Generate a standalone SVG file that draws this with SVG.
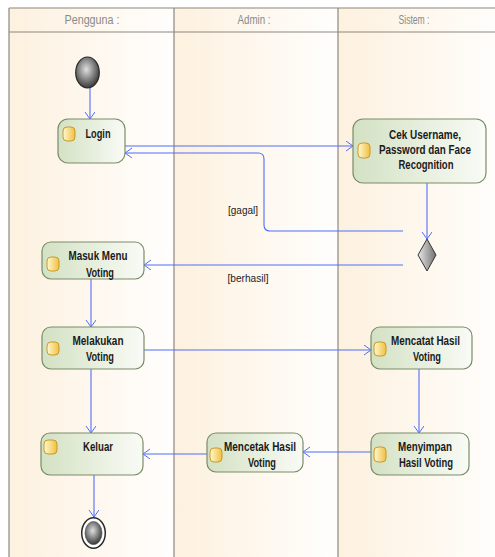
<svg xmlns="http://www.w3.org/2000/svg" width="495" height="557" viewBox="0 0 495 557">
<defs>
<linearGradient id="lane" x1="0" y1="0" x2="1" y2="0">
<stop offset="0" stop-color="#fdf1df"/><stop offset="1" stop-color="#fffefd"/>
</linearGradient>
<linearGradient id="act" x1="0" y1="0" x2="1" y2="0">
<stop offset="0" stop-color="#d3e1c3"/><stop offset="1" stop-color="#f9fbf6"/>
</linearGradient>
<linearGradient id="pill" x1="0" y1="0" x2="1" y2="0">
<stop offset="0" stop-color="#fff8d0"/><stop offset="1" stop-color="#f0c040"/>
</linearGradient>
<radialGradient id="ball" cx="0.45" cy="0.4" r="0.6">
<stop offset="0" stop-color="#e0e0e0"/><stop offset="1" stop-color="#3a3a3a"/>
</radialGradient>
<linearGradient id="dia" x1="0" y1="0" x2="1" y2="0">
<stop offset="0" stop-color="#e8e8e8"/><stop offset="1" stop-color="#707070"/>
</linearGradient>
<marker id="arr" markerUnits="userSpaceOnUse" markerWidth="8" markerHeight="12" refX="7" refY="5" orient="auto">
<path d="M0,0 L7,5 L0,10" fill="none" stroke="#4f6ef7" stroke-width="1"/>
</marker>
<style>
.ln{fill:url(#lane)}
.div{stroke:#8c8880;stroke-width:1.2;fill:none}
.hd{font-family:"Liberation Sans",Arial,sans-serif;font-size:12px;fill:#8a8a8a;text-anchor:middle}
.a{fill:url(#act);stroke:#7a8c68;stroke-width:1.2}
.p{fill:url(#pill);stroke:#c99a28;stroke-width:1}
.t{font-family:"Liberation Sans",Arial,sans-serif;font-size:12.5px;font-weight:bold;fill:#1a1a1a;text-anchor:middle}
.lb{font-family:"Liberation Sans",Arial,sans-serif;font-size:11.5px;fill:#222;text-anchor:middle}
.c{fill:none;stroke:#4f6ef7;stroke-width:1.1}
.cm{marker-end:url(#arr)}
</style>
</defs>
<g id="lanes">
<rect class="ln" x="9" y="8" width="165" height="560"/>
<rect class="ln" x="174" y="8" width="164" height="560"/>
<rect class="ln" x="338" y="8" width="170" height="560"/>
<path class="div" d="M9,8 H500 M9,32 H500 M9,8 V557 M174,8 V557 M338,8 V557"/>
<text class="hd" x="92" y="24" textLength="55" lengthAdjust="spacingAndGlyphs">Pengguna :</text>
<text class="hd" x="254" y="24" textLength="33" lengthAdjust="spacingAndGlyphs">Admin :</text>
<text class="hd" x="414" y="24" textLength="31" lengthAdjust="spacingAndGlyphs">Sistem :</text>
</g>
<g id="connectors">
<path class="c cm" d="M90,88 V119"/>
<path class="c cm" d="M125,146 H353"/>
<path class="c cm" d="M427,183 V239"/>
<path class="c cm" d="M403,231 H270 Q264,231 264,225 V159 Q264,153 258,153 H125"/>
<path class="c cm" d="M403,265 H144"/>
<path class="c cm" d="M91,279 V327"/>
<path class="c cm" d="M144,350 H371"/>
<path class="c cm" d="M419,369 V433"/>
<path class="c cm" d="M371,452 H303"/>
<path class="c cm" d="M207,454 H143"/>
<path class="c cm" d="M91,369 V433"/>
<path class="c cm" d="M94,475 V517"/>
<text class="lb" x="243" y="214" textLength="30" lengthAdjust="spacingAndGlyphs">[gagal]</text>
<text class="lb" x="248" y="282" textLength="41" lengthAdjust="spacingAndGlyphs">[berhasil]</text>
</g>
<g id="start">
<ellipse cx="87.5" cy="72.5" rx="11.8" ry="15.5" fill="url(#ball)" stroke="#2a2a2a" stroke-width="1.2"/>
</g>
<g id="login">
<rect class="a" x="58" y="119" width="67" height="44" rx="10"/>
<rect class="p" x="63" y="127" width="12" height="14" rx="4"/>
<text class="t" x="98" y="138" textLength="25" lengthAdjust="spacingAndGlyphs">Login</text>
</g>
<g id="cek">
<rect class="a" x="353" y="119" width="133" height="64" rx="10"/>
<rect class="p" x="358" y="143" width="12" height="15" rx="4"/>
<text class="t" x="425" y="139" textLength="72" lengthAdjust="spacingAndGlyphs">Cek Username,</text>
<text class="t" x="425" y="154" textLength="92" lengthAdjust="spacingAndGlyphs">Password dan Face</text>
<text class="t" x="426" y="169" textLength="55" lengthAdjust="spacingAndGlyphs">Recognition</text>
</g>
<g id="decision">
<polygon points="427,239 436,255 427,271 418,255" fill="url(#dia)" stroke="#333" stroke-width="1"/>
</g>
<g id="masuk">
<rect class="a" x="42" y="242" width="102" height="37" rx="9"/>
<rect class="p" x="47" y="257" width="12" height="14" rx="4"/>
<text class="t" x="98" y="260" textLength="59" lengthAdjust="spacingAndGlyphs">Masuk Menu</text>
<text class="t" x="100" y="277" textLength="28" lengthAdjust="spacingAndGlyphs">Voting</text>
</g>
<g id="melakukan">
<rect class="a" x="42" y="327" width="102" height="42" rx="9"/>
<rect class="p" x="47" y="342" width="12" height="13" rx="4"/>
<text class="t" x="98" y="345" textLength="51" lengthAdjust="spacingAndGlyphs">Melakukan</text>
<text class="t" x="100" y="361" textLength="28" lengthAdjust="spacingAndGlyphs">Voting</text>
</g>
<g id="mencatat">
<rect class="a" x="371" y="327" width="101" height="42" rx="9"/>
<rect class="p" x="374" y="342" width="12" height="14" rx="4"/>
<text class="t" x="425.5" y="345" textLength="69" lengthAdjust="spacingAndGlyphs">Mencatat Hasil</text>
<text class="t" x="427" y="361" textLength="28" lengthAdjust="spacingAndGlyphs">Voting</text>
</g>
<g id="menyimpan">
<rect class="a" x="371" y="433" width="98" height="42" rx="9"/>
<rect class="p" x="374" y="447" width="12" height="15" rx="4"/>
<text class="t" x="425" y="451" textLength="54" lengthAdjust="spacingAndGlyphs">Menyimpan</text>
<text class="t" x="426" y="467" textLength="54" lengthAdjust="spacingAndGlyphs">Hasil Voting</text>
</g>
<g id="mencetak">
<rect class="a" x="207" y="433" width="96" height="39" rx="9"/>
<rect class="p" x="210" y="448" width="12" height="14" rx="4"/>
<text class="t" x="260" y="451" textLength="72" lengthAdjust="spacingAndGlyphs">Mencetak Hasil</text>
<text class="t" x="262" y="467" textLength="28" lengthAdjust="spacingAndGlyphs">Voting</text>
</g>
<g id="keluar">
<rect class="a" x="41" y="433" width="102" height="42" rx="9"/>
<rect class="p" x="44" y="440" width="13" height="14" rx="4"/>
<text class="t" x="98" y="451" textLength="30" lengthAdjust="spacingAndGlyphs">Keluar</text>
</g>
<g id="end">
<ellipse cx="93.5" cy="533" rx="11.8" ry="15.3" fill="#fff" stroke="#2a2a2a" stroke-width="1.5"/>
<ellipse cx="93.5" cy="533" rx="8.5" ry="11.5" fill="url(#ball)" stroke="#444" stroke-width="0.6"/>
</g>
</svg>
